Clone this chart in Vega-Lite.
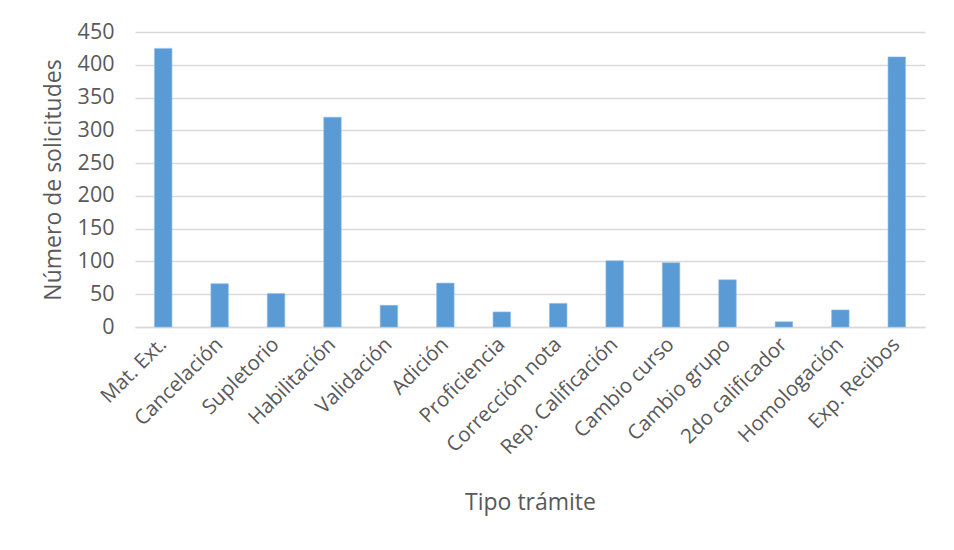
{
  "$schema": "https://vega.github.io/schema/vega-lite/v6.json",
  "autosize": "none",
  "width": 790,
  "height": 295,
  "padding": {"left": 135, "top": 32, "right": 29, "bottom": 223},
  "background": "white",
  "data": {
    "values": [
      {"tramite": "Mat. Ext.", "solicitudes": 425},
      {"tramite": "Cancelación", "solicitudes": 66},
      {"tramite": "Supletorio", "solicitudes": 51},
      {"tramite": "Habilitación", "solicitudes": 320},
      {"tramite": "Validación", "solicitudes": 33},
      {"tramite": "Adición", "solicitudes": 67},
      {"tramite": "Proficiencia", "solicitudes": 23},
      {"tramite": "Corrección nota", "solicitudes": 36},
      {"tramite": "Rep. Calificación", "solicitudes": 101},
      {"tramite": "Cambio curso", "solicitudes": 98},
      {"tramite": "Cambio grupo", "solicitudes": 72},
      {"tramite": "2do calificador", "solicitudes": 8},
      {"tramite": "Homologación", "solicitudes": 26},
      {"tramite": "Exp. Recibos", "solicitudes": 412}
    ]
  },
  "mark": {"type": "bar", "color": "#5b9bd5", "width": {"band": 0.31}, "stroke": "#8fbce6", "strokeWidth": 0.6},
  "encoding": {
    "x": {
      "field": "tramite",
      "type": "nominal",
      "sort": null,
      "scale": {"paddingInner": 0, "paddingOuter": 0},
      "axis": {
        "title": "Tipo trámite",
        "labelAngle": -45,
        "labelAlign": "right",
        "labelBaseline": "middle",
        "labelPadding": 14,
        "labelFontSize": 20.5,
        "ticks": false,
        "domainColor": "#d9d9d9",
        "domainWidth": 1.5,
        "titleY": 175,
        "titleBaseline": "middle",
        "titleFontSize": 23
      }
    },
    "y": {
      "field": "solicitudes",
      "type": "quantitative",
      "scale": {"domain": [0, 450]},
      "axis": {
        "title": "Número de solicitudes",
        "values": [0, 50, 100, 150, 200, 250, 300, 350, 400, 450],
        "domain": false,
        "ticks": false,
        "labelPadding": 21,
        "labelFontSize": 21.5,
        "gridColor": "#d9d9d9",
        "gridWidth": 1.5,
        "titleX": -82,
        "titleBaseline": "middle",
        "titleFontSize": 23
      }
    }
  },
  "config": {
    "view": {"stroke": null},
    "font": "Open Sans",
    "axis": {
      "labelFont": "Open Sans",
      "titleFont": "Open Sans",
      "labelColor": "#595959",
      "titleColor": "#595959",
      "titleFontWeight": "normal"
    }
  }
}
